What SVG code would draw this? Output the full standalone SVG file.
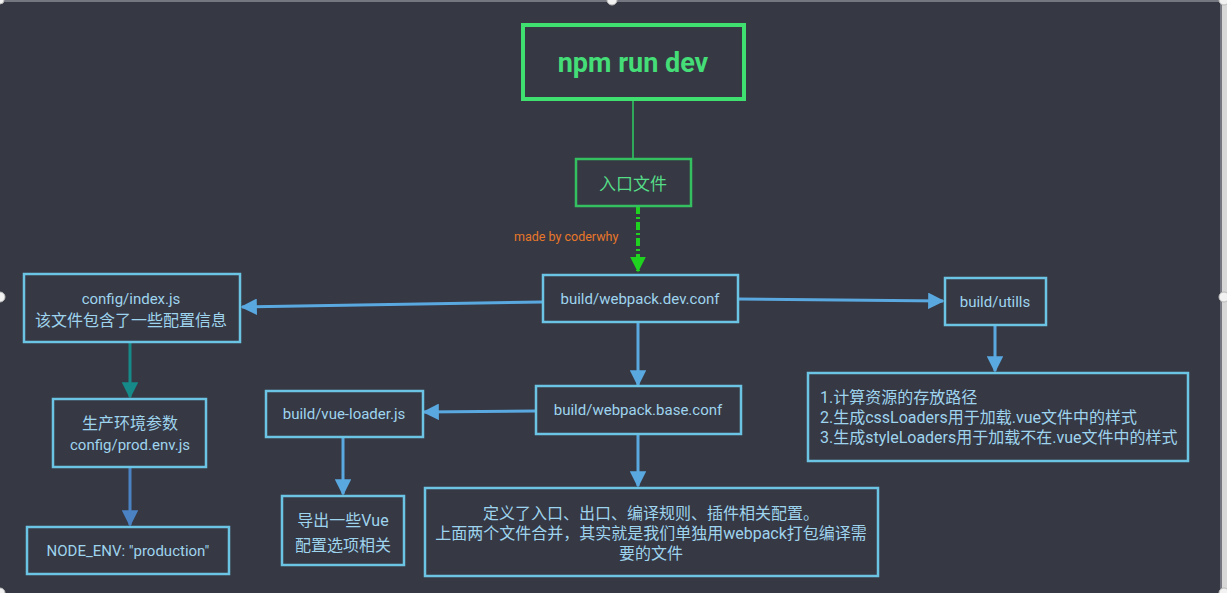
<svg xmlns="http://www.w3.org/2000/svg" width="1227" height="593" viewBox="0 0 1227 593">
<defs>
<style>
.box{fill:none;stroke:#6cc4e4;stroke-width:2.5}
.t{font-family:Roboto,"Noto Sans CJK SC",sans-serif;font-size:15px;fill:#9fd4ee;text-anchor:middle}
.c{font-size:16px}
.tl{font-family:Roboto,"Noto Sans CJK SC",sans-serif;font-size:16px;fill:#9fd4ee}
.ar{stroke:#5aa8e0;stroke-width:3;fill:none}
.handle{fill:#f2f2f2;stroke:#bbbbbb;stroke-width:1}
</style>
<marker id="ab" viewBox="0 0 10 10" refX="9" refY="5" markerWidth="5.5" markerHeight="5.5" orient="auto" markerUnits="strokeWidth"><path d="M0,0 L10,5 L0,10 z" fill="#5aa8e0"/></marker>
<marker id="at" viewBox="0 0 10 10" refX="9" refY="5" markerWidth="5.5" markerHeight="5.5" orient="auto" markerUnits="strokeWidth"><path d="M0,0 L10,5 L0,10 z" fill="#168a88"/></marker>
<marker id="as" viewBox="0 0 10 10" refX="9" refY="5" markerWidth="5.5" markerHeight="5.5" orient="auto" markerUnits="strokeWidth"><path d="M0,0 L10,5 L0,10 z" fill="#4a82c4"/></marker>
<marker id="ag" viewBox="0 0 10 10" refX="9" refY="5" markerWidth="4" markerHeight="4" orient="auto" markerUnits="strokeWidth"><path d="M0,0 L10,5 L0,10 z" fill="#1fd21f"/></marker>
</defs>
<rect x="0" y="0" width="1227" height="593" fill="#363843"/>
<rect x="1222" y="0" width="5" height="593" fill="#d8d8d8"/>
<line x1="0" y1="1" x2="1222" y2="1" stroke="#8a8c94" stroke-width="1.5"/>
<line x1="1221" y1="0" x2="1221" y2="593" stroke="#8a8c94" stroke-width="1.5"/>

<g id="connectors">
<line x1="633" y1="99" x2="633" y2="158" stroke="#2fa85a" stroke-width="2"/>
<line x1="638" y1="206" x2="638" y2="271" stroke="#1fd21f" stroke-width="4" stroke-dasharray="8,3,2,3" marker-end="url(#ag)"/>
<line x1="542" y1="302" x2="242" y2="307" class="ar" marker-end="url(#ab)"/>
<line x1="738" y1="299" x2="943" y2="301" class="ar" marker-end="url(#ab)"/>
<line x1="638" y1="322" x2="638" y2="385" class="ar" marker-end="url(#ab)"/>
<line x1="535" y1="411" x2="424" y2="412" class="ar" marker-end="url(#ab)"/>
<line x1="343" y1="437" x2="343" y2="494" class="ar" marker-end="url(#ab)"/>
<line x1="638" y1="434" x2="638" y2="486" class="ar" marker-end="url(#ab)"/>
<line x1="995" y1="325" x2="995" y2="371" class="ar" marker-end="url(#ab)"/>
<line x1="130" y1="342" x2="130" y2="397" stroke="#168a88" stroke-width="3" marker-end="url(#at)"/>
<line x1="130" y1="467" x2="130" y2="525" stroke="#4a82c4" stroke-width="3" marker-end="url(#as)"/>
</g>

<g id="npm">
<rect x="523" y="25" width="221" height="74" fill="none" stroke="#3fe070" stroke-width="4"/>
<text x="633" y="72" font-family="Roboto,sans-serif" font-size="27" font-weight="bold" fill="#44dd77" text-anchor="middle">npm run dev</text>
</g>
<g id="entry">
<rect x="576" y="159" width="115" height="47" fill="none" stroke="#34c060" stroke-width="2.5"/>
<text x="633" y="190" font-family="Roboto,'Noto Sans CJK SC',sans-serif" font-size="17" fill="#55dd88" text-anchor="middle">入口文件</text>
</g>
<g id="watermark">
<text x="514" y="241" font-family="Roboto,sans-serif" font-size="12.5" fill="#e8772a">made by coderwhy</text>
</g>
<g id="devconf">
<rect x="543" y="275" width="195" height="47" class="box"/>
<text x="640" y="304" class="t">build/webpack.dev.conf</text>
</g>
<g id="configindex">
<rect x="24" y="274" width="216" height="68" class="box"/>
<text x="131" y="304" class="t">config/index.js</text>
<text x="131" y="326" class="t c">该文件包含了一些配置信息</text>
</g>
<g id="utills">
<rect x="945" y="278" width="101" height="47" class="box"/>
<text x="995" y="307" class="t">build/utills</text>
</g>
<g id="baseconf">
<rect x="536" y="386" width="205" height="48" class="box"/>
<text x="638" y="415" class="t">build/webpack.base.conf</text>
</g>
<g id="vueloader">
<rect x="266" y="391" width="157" height="46" class="box"/>
<text x="344" y="419" class="t">build/vue-loader.js</text>
</g>
<g id="vueexport">
<rect x="282" y="496" width="122" height="69" class="box"/>
<text x="343" y="526" class="t c">导出一些Vue</text>
<text x="343" y="551" class="t c">配置选项相关</text>
</g>
<g id="basedesc">
<rect x="425" y="488" width="453" height="88" class="box"/>
<text x="651" y="519" class="t c">定义了入口、出口、编译规则、插件相关配置。</text>
<text x="651" y="539" class="t c">上面两个文件合并，其实就是我们单独用webpack打包编译需</text>
<text x="651" y="559" class="t c">要的文件</text>
</g>
<g id="utilsdesc">
<rect x="808" y="373" width="380" height="88" class="box"/>
<text x="820" y="403" class="tl">1.计算资源的存放路径</text>
<text x="820" y="423" class="tl">2.生成cssLoaders用于加载.vue文件中的样式</text>
<text x="820" y="443" class="tl">3.生成styleLoaders用于加载不在.vue文件中的样式</text>
</g>
<g id="prodenv">
<rect x="53" y="399" width="153" height="68" class="box"/>
<text x="130" y="429" class="t c">生产环境参数</text>
<text x="130" y="450" class="t">config/prod.env.js</text>
</g>
<g id="nodeenv">
<rect x="27" y="527" width="202" height="47" class="box"/>
<text x="128" y="556" class="t">NODE_ENV: "production"</text>
</g>

<circle cx="612" cy="0" r="5" class="handle"/>
<circle cx="0" cy="297" r="5" class="handle"/>
<circle cx="1224" cy="297" r="5" class="handle"/>
<circle cx="0" cy="593" r="5" class="handle"/>
<circle cx="1224" cy="593" r="5" class="handle"/>
<circle cx="1224" cy="0" r="5" class="handle"/>
<circle cx="0" cy="0" r="4" class="handle"/>
</svg>
